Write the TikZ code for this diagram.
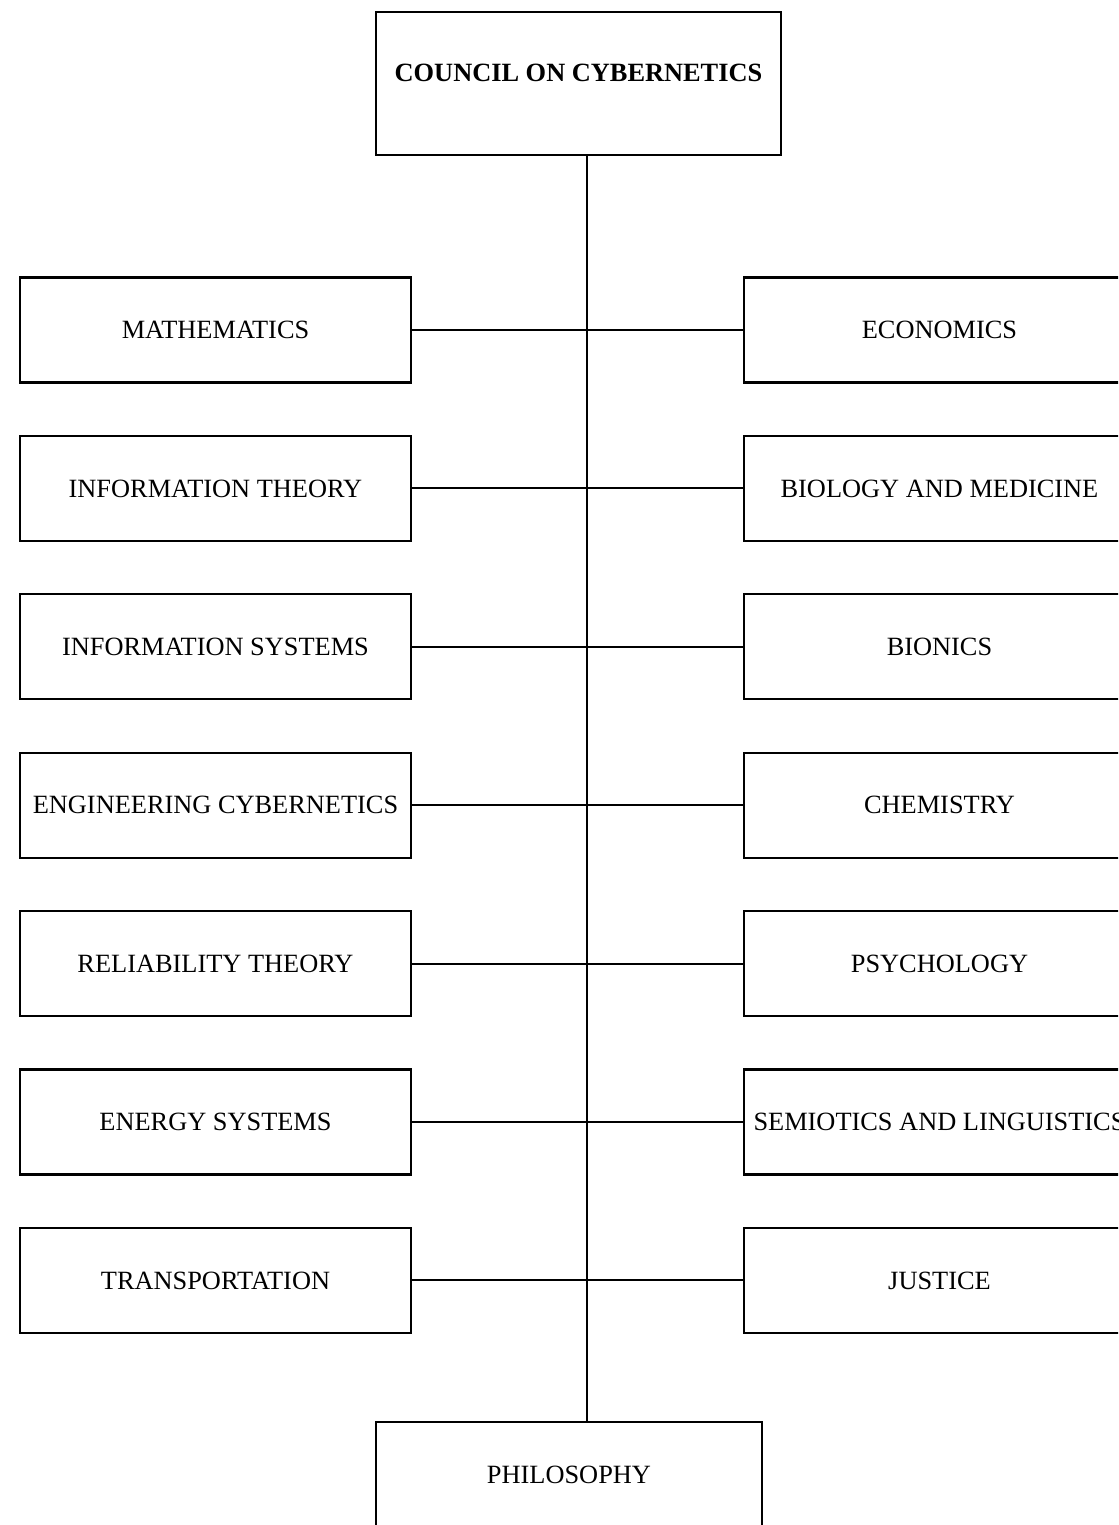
\documentclass[tikz,border=0pt]{standalone}
\usepackage{fontspec}
\setmainfont{Liberation Serif}
\usetikzlibrary{positioning}
\tikzset{
    fieldbox/.style={draw, line width=1.2pt, minimum width=7.82cm,
                     minimum height=2.1cm, inner xsep=0pt,
                     text height=0.35cm, text depth=0pt,
                     font=\fontsize{15}{18}\selectfont},
    headbox/.style={fieldbox, minimum width=8.1cm, minimum height=2.86cm,
                    text depth=0.42cm, font=\fontsize{15}{18}\selectfont\bfseries},
    footbox/.style={fieldbox, minimum width=7.72cm, minimum height=2.86cm,
                    text depth=0.74cm},
}

\begin{document}
\begin{tikzpicture}[
    link/.style={line width=1.1pt, black}
]
    \clip (0,0) rectangle (22.36,-30.5);

    \node[headbox] (council) at (11.57,-1.67) {COUNCIL ON CYBERNETICS};

    \node[fieldbox] (math) at (4.31,-6.600) {MATHEMATICS};
    \node[fieldbox] (infotheory) at (4.31,-9.768) {INFORMATION THEORY};
    \node[fieldbox] (infosys) at (4.31,-12.936) {INFORMATION SYSTEMS};
    \node[fieldbox] (engcyb) at (4.31,-16.104) {ENGINEERING CYBERNETICS};
    \node[fieldbox] (reliab) at (4.31,-19.272) {RELIABILITY THEORY};
    \node[fieldbox] (energy) at (4.31,-22.440) {ENERGY SYSTEMS};
    \node[fieldbox] (transp) at (4.31,-25.608) {TRANSPORTATION};

    \node[fieldbox] (econ) at (18.79,-6.600) {ECONOMICS};
    \node[fieldbox] (biomed) at (18.79,-9.768) {BIOLOGY AND MEDICINE};
    \node[fieldbox] (bionics) at (18.79,-12.936) {BIONICS};
    \node[fieldbox] (chem) at (18.79,-16.104) {CHEMISTRY};
    \node[fieldbox] (psych) at (18.79,-19.272) {PSYCHOLOGY};
    \node[fieldbox] (semio) at (18.79,-22.440) {SEMIOTICS AND LINGUISTICS};
    \node[fieldbox] (justice) at (18.79,-25.608) {JUSTICE};

    \node[footbox] (philo) at (11.38,-29.87) {PHILOSOPHY};

    % vertical trunk
    \coordinate (trunktop) at (11.74,-3.10);
    \draw[link] (trunktop) -- (trunktop |- philo.north);

    % rows across the trunk
    \draw[link] (math) -- (econ);
    \draw[link] (infotheory) -- (biomed);
    \draw[link] (infosys) -- (bionics);
    \draw[link] (engcyb) -- (chem);
    \draw[link] (reliab) -- (psych);
    \draw[link] (energy) -- (semio);
    \draw[link] (transp) -- (justice);
\end{tikzpicture}
\end{document}
